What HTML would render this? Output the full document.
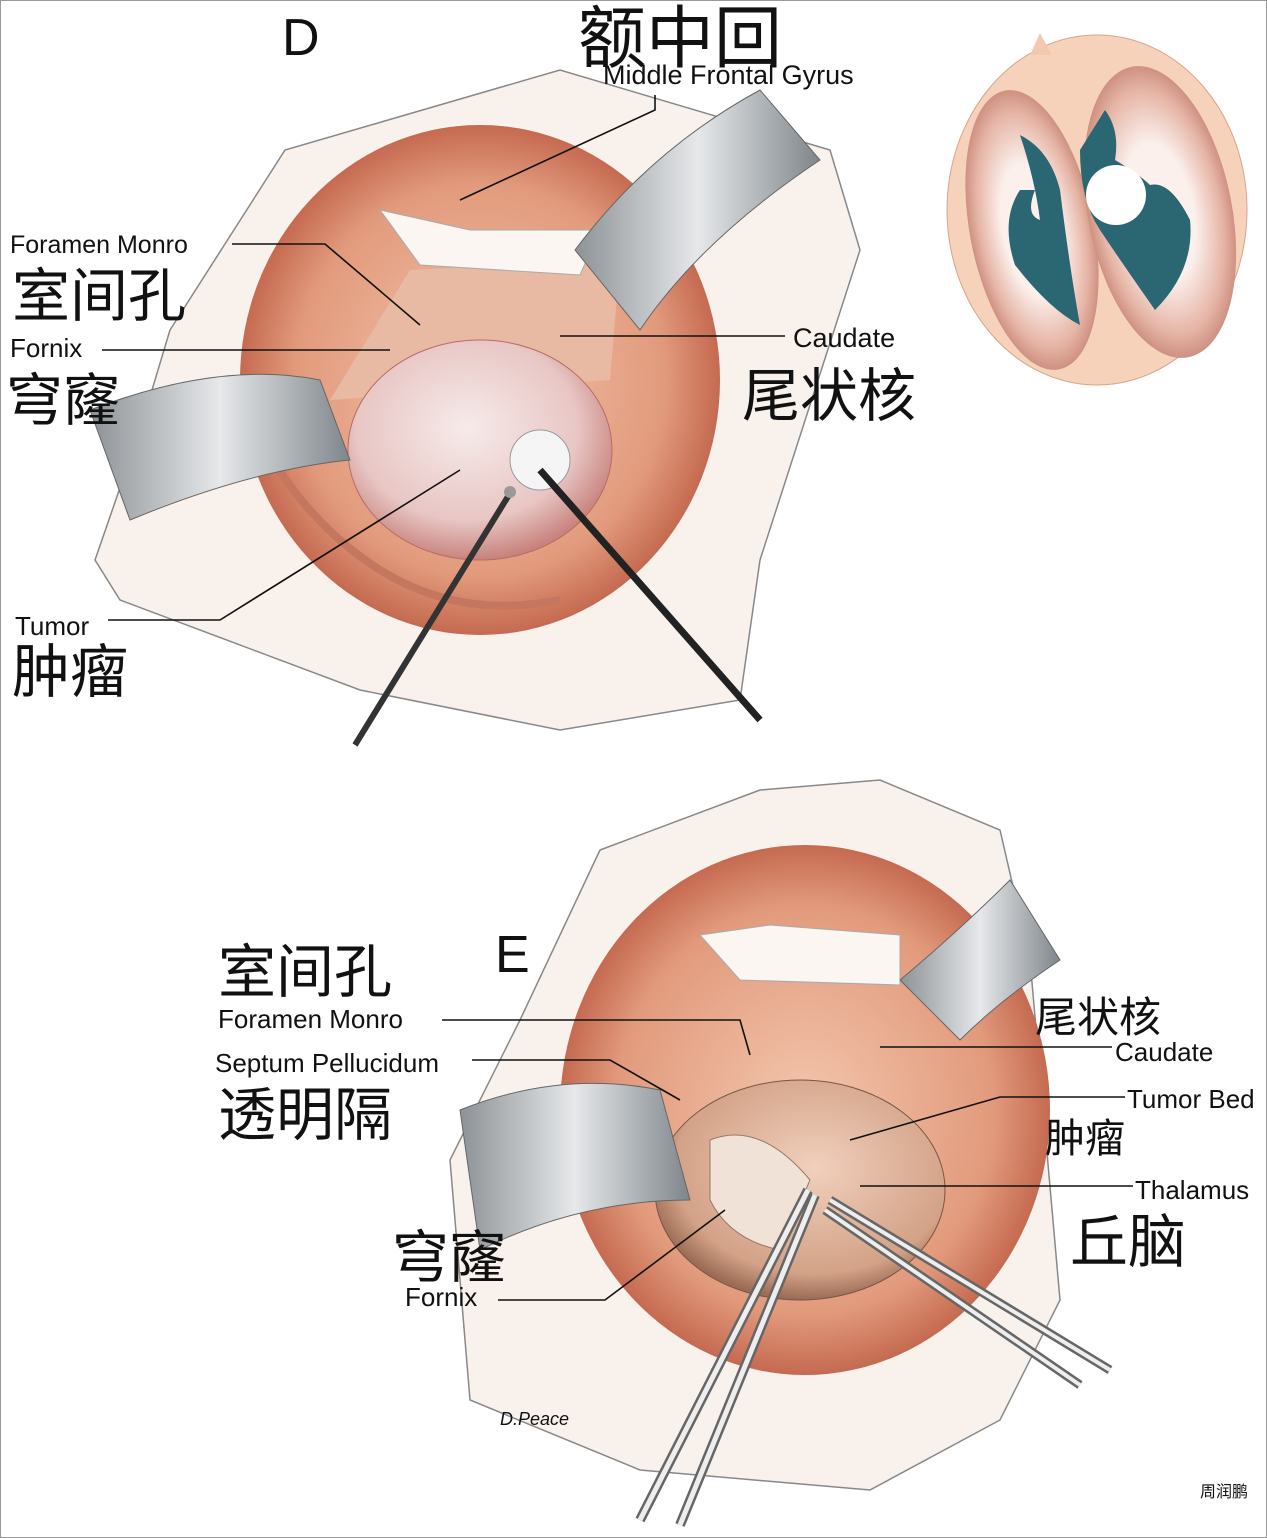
<!DOCTYPE html>
<html><head><meta charset="utf-8"><style>
html,body{margin:0;padding:0;background:#fff}
svg{display:block}
text{font-family:"Liberation Sans","Noto Sans CJK SC",sans-serif;fill:#111}
.cjk{font-family:"Noto Sans CJK SC","WenQuanYi Zen Hei",sans-serif}
</style></head><body>
<svg width="1267" height="1538" viewBox="0 0 1267 1538" xmlns="http://www.w3.org/2000/svg">
<defs>
<radialGradient id="brain" cx="50%" cy="50%" r="55%"><stop offset="0" stop-color="#f3c6ad"/><stop offset="0.7" stop-color="#e29a7c"/><stop offset="1" stop-color="#b8553e"/></radialGradient>
<radialGradient id="tum" cx="45%" cy="40%" r="60%"><stop offset="0" stop-color="#f6ebea"/><stop offset="0.7" stop-color="#e8c6c4"/><stop offset="1" stop-color="#c8837d"/></radialGradient>
<radialGradient id="bed" cx="55%" cy="40%" r="60%"><stop offset="0" stop-color="#f1d0bd"/><stop offset="0.8" stop-color="#d3a287"/><stop offset="1" stop-color="#9b6b55"/></radialGradient>
<linearGradient id="ret" x1="0" y1="0" x2="1" y2="0"><stop offset="0" stop-color="#8d9296"/><stop offset="0.5" stop-color="#e6e8ea"/><stop offset="1" stop-color="#7f868b"/></linearGradient>
<radialGradient id="hem" cx="50%" cy="50%" r="52%"><stop offset="0.45" stop-color="#fbf0ec"/><stop offset="0.8" stop-color="#e6b5a6"/><stop offset="1" stop-color="#c98878"/></radialGradient>
</defs>
<rect x="0.5" y="0.5" width="1266" height="1537" fill="#fff" stroke="#999"/>

<!-- Panel D -->
<path d="M170,330 L285,150 L560,70 L830,150 L860,250 L760,560 L740,700 L560,730 L360,690 L120,600 L95,560 L140,430 Z" fill="#f8f1ec" stroke="#888" stroke-width="1.5"/>
<ellipse cx="480" cy="380" rx="240" ry="255" fill="url(#brain)"/>
<path d="M250,420 Q300,520 380,570 Q460,620 560,600" fill="none" stroke="#c5765e" stroke-width="8"/>
<polygon points="410,270 620,260 610,380 330,400" fill="#e8b9a3"/>
<path d="M380,210 L470,230 L600,230 L580,275 L420,265 Z" fill="#fbf6f2" stroke="#aaa"/>
<ellipse cx="480" cy="450" rx="132" ry="110" fill="url(#tum)" stroke="#b76d62"/>
<circle cx="540" cy="460" r="30" fill="#f5f5f5" stroke="#999"/>
<path d="M90,410 Q220,360 320,380 L350,460 Q250,470 130,520 Z" fill="url(#ret)" stroke="#666"/>
<path d="M575,250 Q650,150 760,90 L820,160 Q700,240 640,330 Z" fill="url(#ret)" stroke="#666"/>
<line x1="355" y1="745" x2="512" y2="490" stroke="#333" stroke-width="6"/>
<line x1="760" y1="720" x2="540" y2="470" stroke="#222" stroke-width="7"/>
<circle cx="510" cy="492" r="6" fill="#999"/>
<!-- inset -->
<ellipse cx="1097" cy="210" rx="150" ry="175" fill="#f7d2bb" stroke="#d8a48b"/>
<path d="M1030,55 l10,-22 l12,22z" fill="#f3c9ae"/>
<ellipse cx="1032" cy="230" rx="62" ry="142" transform="rotate(-11 1032 230)" fill="url(#hem)"/>
<ellipse cx="1160" cy="212" rx="72" ry="148" transform="rotate(-11 1160 212)" fill="url(#hem)"/>
<path d="M1020,135 Q1050,150 1060,190 Q1070,270 1080,325 Q1050,310 1015,265 Q1000,220 1020,190 L1035,190 Q1025,215 1040,220 Q1035,180 1020,135Z" fill="#2b6673"/>
<path d="M1105,110 Q1120,130 1115,160 Q1140,175 1150,185 Q1170,180 1190,220 Q1195,270 1155,310 Q1120,260 1100,230 Q1080,200 1080,150 Z" fill="#2b6673"/>
<circle cx="1116" cy="195" r="30" fill="#fff"/>

<!-- Panel D labels -->
<text x="282" y="55" font-size="52">D</text>
<text x="578" y="62" font-size="68" class="cjk">额中回</text>
<text x="603" y="84" font-size="27">Middle Frontal Gyrus</text>
<text x="10" y="253" font-size="25">Foramen Monro</text>
<text x="12" y="316" font-size="58" class="cjk">室间孔</text>
<text x="10" y="357" font-size="26">Fornix</text>
<text x="6" y="420" font-size="57" class="cjk">穹窿</text>
<text x="793" y="347" font-size="27">Caudate</text>
<text x="742" y="416" font-size="58" class="cjk">尾状核</text>
<text x="15" y="635" font-size="26">Tumor</text>
<text x="12" y="692" font-size="58" class="cjk">肿瘤</text>
<g stroke="#111" stroke-width="1.6" fill="none">
<polyline points="655,95 655,110 460,200"/>
<polyline points="232,244 325,244 420,325"/>
<polyline points="102,350 390,350"/>
<polyline points="785,336 560,336"/>
<polyline points="108,620 220,620 460,470"/>
</g>

<!-- Panel E -->
<path d="M600,850 L760,790 L880,780 L1000,830 L1030,960 L1060,1300 L1000,1420 L870,1490 L640,1470 L470,1400 L450,1160 L520,1020 Z" fill="#f8f1ec" stroke="#888" stroke-width="1.5"/>
<ellipse cx="805" cy="1110" rx="245" ry="265" fill="url(#brain)"/>
<path d="M700,935 L770,925 L900,935 L900,985 L740,980 Z" fill="#fbf6f2" stroke="#aaa"/>
<ellipse cx="800" cy="1190" rx="145" ry="110" fill="url(#bed)" stroke="#7a5545"/>
<path d="M710,1140 Q760,1120 810,1180 L780,1250 Q730,1240 710,1200Z" fill="#f0e2d7" stroke="#9a7765"/>
<path d="M460,1110 Q560,1070 660,1090 L690,1200 Q580,1200 480,1250 Z" fill="url(#ret)" stroke="#666"/>
<path d="M900,980 Q960,930 1010,880 L1060,960 Q1000,1000 960,1040 Z" fill="url(#ret)" stroke="#666"/>
<line x1="640" y1="1520" x2="808" y2="1190" stroke="#666" stroke-width="10"/>
<line x1="640" y1="1520" x2="808" y2="1190" stroke="#eee" stroke-width="5"/>
<line x1="680" y1="1525" x2="815" y2="1195" stroke="#666" stroke-width="10"/>
<line x1="680" y1="1525" x2="815" y2="1195" stroke="#eee" stroke-width="5"/>
<line x1="1110" y1="1370" x2="830" y2="1200" stroke="#666" stroke-width="9"/>
<line x1="1110" y1="1370" x2="830" y2="1200" stroke="#eee" stroke-width="4"/>
<line x1="1080" y1="1385" x2="825" y2="1210" stroke="#666" stroke-width="9"/>
<line x1="1080" y1="1385" x2="825" y2="1210" stroke="#eee" stroke-width="4"/>
<text x="500" y="1425" font-size="18" font-style="italic" fill="#555">D.Peace</text>

<!-- Panel E labels -->
<text x="218" y="992" font-size="58" class="cjk">室间孔</text>
<text x="495" y="972" font-size="52">E</text>
<text x="218" y="1028" font-size="26">Foramen Monro</text>
<text x="215" y="1072" font-size="26">Septum Pellucidum</text>
<text x="218" y="1135" font-size="58" class="cjk">透明隔</text>
<text x="392" y="1277" font-size="57" class="cjk">穹窿</text>
<text x="405" y="1306" font-size="26">Fornix</text>
<text x="1035" y="1032" font-size="42" class="cjk">尾状核</text>
<text x="1115" y="1061" font-size="26">Caudate</text>
<text x="1127" y="1108" font-size="26">Tumor Bed</text>
<text x="1045" y="1152" font-size="40" class="cjk">肿瘤</text>
<text x="1135" y="1199" font-size="26">Thalamus</text>
<text x="1070" y="1262" font-size="58" class="cjk">丘脑</text>
<text x="1200" y="1497" font-size="16" class="cjk">周润鹏</text>
<g stroke="#111" stroke-width="1.6" fill="none">
<polyline points="442,1020 740,1020 750,1055"/>
<polyline points="472,1060 610,1060 680,1100"/>
<polyline points="498,1300 605,1300 725,1210"/>
<polyline points="1112,1047 880,1047"/>
<polyline points="1125,1097 1000,1097 850,1140"/>
<polyline points="1133,1186 860,1186"/>
</g>
</svg>
</body></html>
